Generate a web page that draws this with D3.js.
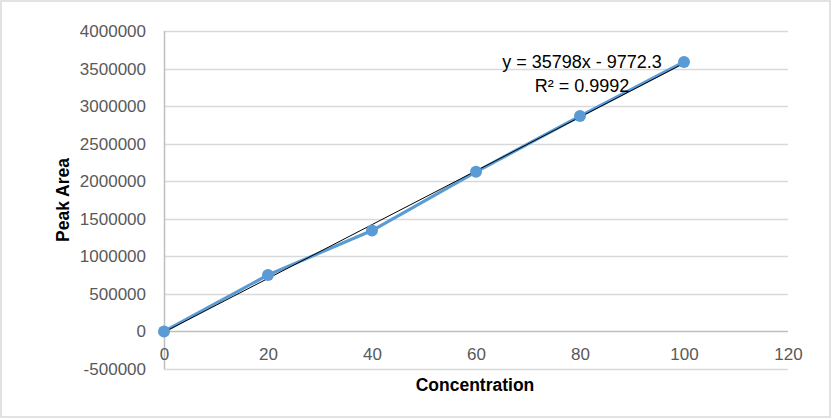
<!DOCTYPE html>
<html><head><meta charset="utf-8">
<script src="https://cdn.jsdelivr.net/npm/d3@7"></script>
<style>body{margin:0;background:#fff}svg{display:block}</style>
</head><body>
<svg id="c" width="832" height="419"></svg>
<script>
const concentration = [0, 20, 40, 60, 80, 100];
const peakArea = [0, 752000, 1343000, 2125000, 2867000, 3587000];
const xTicks = [0, 20, 40, 60, 80, 100, 120];
const yTicks = [-500000, 0, 500000, 1000000, 1500000, 2000000, 2500000, 3000000, 3500000, 4000000];
const slope = 35798, intercept = -9772.3;
const eqText = "y = 35798x - 9772.3";
const r2Text = "R² = 0.9992";

const svg = d3.select("#c");
svg.append("rect").attr("x",1).attr("y",1).attr("width",829).attr("height",416)
  .attr("fill","#fff").attr("stroke","#d9d9d9").attr("stroke-width",1.5);

const x = d3.scaleLinear().domain([0,120]).range([164,788]);
const y = d3.scaleLinear().domain([-500000,4000000]).range([369,31]);
const font = "'Liberation Sans', Arial, sans-serif";
const fmt = d => String(d);

// gridlines
svg.append("g").selectAll("line").data(yTicks).join("line")
  .attr("x1",x(0)).attr("x2",x(120))
  .attr("y1",d=>Math.round(y(d))+0.5).attr("y2",d=>Math.round(y(d))+0.5)
  .attr("stroke",d=>d===0?"#bfbfbf":"#d9d9d9").attr("stroke-width",1.5);
// y axis line
svg.append("line").attr("x1",x(0)+0.5).attr("x2",x(0)+0.5).attr("y1",y(4000000)).attr("y2",y(-500000))
  .attr("stroke","#bfbfbf").attr("stroke-width",1.5);

// y tick labels
const yAxis = d3.axisLeft(y).tickValues(yTicks).tickSize(0).tickPadding(18).tickFormat(fmt);
const gy = svg.append("g").attr("transform",`translate(${x(0)},0)`).call(yAxis);
gy.select(".domain").remove();
gy.selectAll("text").attr("fill","#595959").style("font-family",font).style("font-size","17px");

// x tick labels
const xAxis = d3.axisBottom(x).tickValues(xTicks).tickSize(0).tickPadding(16).tickFormat(fmt);
const gx = svg.append("g").attr("transform",`translate(0,${y(0)})`).call(xAxis);
gx.select(".domain").remove();
gx.selectAll("text").attr("fill","#595959").style("font-family",font).style("font-size","17px");

// data line
const pts = concentration.map((c,i)=>[c,peakArea[i]]);
svg.append("path").datum(pts)
  .attr("d", d3.line().x(d=>x(d[0])).y(d=>y(d[1])))
  .attr("fill","none").attr("stroke","#5b9bd5").attr("stroke-width",3.2).attr("stroke-linejoin","round");

// trendline
const tl = [0,100].map(c=>[c, slope*c+intercept]);
svg.append("path").datum(tl)
  .attr("d", d3.line().x(d=>x(d[0])).y(d=>y(d[1])))
  .attr("fill","none").attr("stroke","#000").attr("stroke-width",1);

// markers
svg.append("g").selectAll("circle").data(pts).join("circle")
  .attr("cx",d=>x(d[0])).attr("cy",d=>y(d[1])).attr("r",6).attr("fill","#5b9bd5");

// equation
svg.append("text").attr("x",582).attr("y",68).attr("text-anchor","middle")
  .style("font-family",font).style("font-size","18px").attr("fill","#000").text(eqText);
svg.append("text").attr("x",582).attr("y",92).attr("text-anchor","middle")
  .style("font-family",font).style("font-size","18px").attr("fill","#000").text(r2Text);

// axis titles
svg.append("text").attr("x",475).attr("y",391).attr("text-anchor","middle")
  .style("font-family",font).style("font-size","17.5px").style("font-weight","bold").attr("fill","#000").text("Concentration");
svg.append("text").attr("transform","translate(69,200) rotate(-90)").attr("text-anchor","middle")
  .style("font-family",font).style("font-size","17.5px").style("font-weight","bold").attr("fill","#000").text("Peak Area");
</script>
</body></html>
